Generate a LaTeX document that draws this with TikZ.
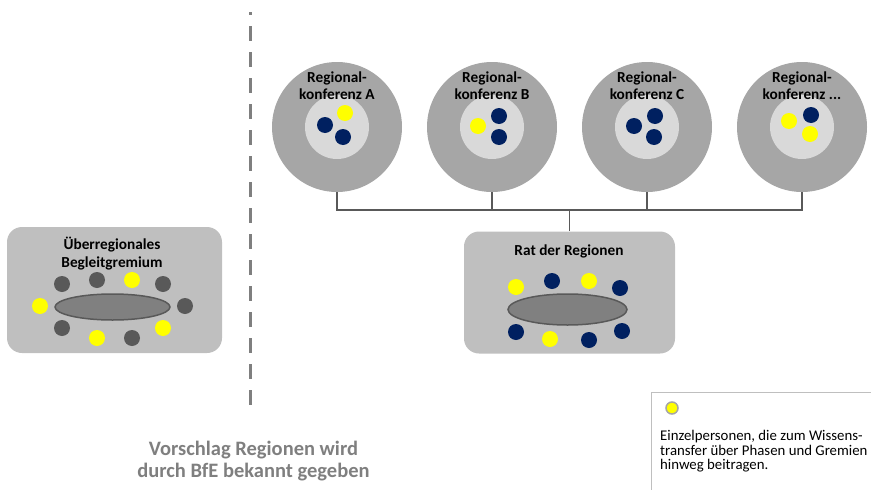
\documentclass[tikz,border=0pt]{standalone}
\usepackage{fontspec}
\setmainfont{Carlito}
\usetikzlibrary{shapes.geometric}
\definecolor{navy}{HTML}{002060}
\definecolor{yel}{HTML}{FFFF00}
\definecolor{dgray}{HTML}{595959}
\definecolor{outerc}{HTML}{A6A6A6}
\definecolor{innerc}{HTML}{D9D9D9}
\definecolor{boxc}{HTML}{BFBFBF}
\definecolor{tablec}{HTML}{808080}
\definecolor{txtgray}{HTML}{7F7F7F}
\begin{document}
\begin{tikzpicture}[x=1pt,y=-1pt,
  dot/.style={circle,minimum size=16pt,inner sep=0pt},
  ydot/.style={dot,fill=yel},
  ndot/.style={dot,fill=navy},
  gdot/.style={dot,fill=dgray},
  outer/.style={circle,minimum size=130pt,inner sep=0pt,fill=outerc},
  inner/.style={circle,minimum size=64pt,inner sep=0pt,fill=innerc},
  ttl/.style={font=\fontsize{15.3}{17.6}\selectfont\bfseries,align=center,inner sep=0pt},
  gbox/.style={rectangle,rounded corners=15pt,fill=boxc,inner sep=0pt},
  table/.style={ellipse,fill=tablec,draw=dgray,line width=1.5pt,inner sep=0pt},
  conn/.style={draw=dgray,line width=1.8pt},
]
\useasboundingbox (0,0) rectangle (871,490);

% dashed separator
\draw[txtgray,line width=3pt,dash pattern=on 15pt off 11pt,dash phase=12pt] (250,12) -- (250,412);

% regional conferences
\foreach \n/\x in {ra/337,rb/492,rc/647,rd/802}{
  \node[outer] (\n) at (\x,127) {};
  \node[inner] (\n i) at (\x,127) {};
}
\node[ttl] (ta) at (337,85.5) {Regional-\\konferenz A};
\node[ttl] (tb) at (492,85.5) {Regional-\\konferenz B};
\node[ttl] (tc) at (647,85.5) {Regional-\\konferenz C};
\node[ttl] (td) at (802,85.5) {Regional-\\konferenz ...};

\node[ydot] (a1) at (345,113) {};
\node[ndot] (a2) at (325,125) {};
\node[ndot] (a3) at (343,137) {};
\node[ndot] (b1) at (499,116) {};
\node[ydot] (b2) at (478,126) {};
\node[ndot] (b3) at (499,137) {};
\node[ndot] (c1) at (655,116) {};
\node[ndot] (c2) at (634,126) {};
\node[ndot] (c3) at (654,137) {};
\node[ndot] (d1) at (811,115) {};
\node[ydot] (d2) at (789,121) {};
\node[ydot] (d3) at (810,134) {};

% Rat der Regionen
\node[gbox,minimum width=211pt,minimum height=122pt] (rat) at (569.5,292.5) {};
\node[ttl] (rtt) at (569,251.5) {Rat der Regionen};
\node[table,minimum width=119pt,minimum height=31pt] (rtab) at (567.5,309.5) {};
\node[ydot] (r1) at (516,287) {};
\node[ndot] (r2) at (552,281) {};
\node[ydot] (r3) at (589,281) {};
\node[ndot] (r4) at (620,288) {};
\node[ndot] (r5) at (516,332) {};
\node[ydot] (r6) at (550,339) {};
\node[ndot] (r7) at (589,340) {};
\node[ndot] (r8) at (622,331) {};

% connectors
\coordinate (bus) at (569.5,210);
\draw[conn] (ra.south) |- (rd.south |- bus) -- (rd.south);
\draw[conn] (rb.south) -- (rb.south |- bus);
\draw[conn] (rc.south) -- (rc.south |- bus);
\draw[conn] (bus) -- (rat.north);

% Ueberregionales Begleitgremium
\node[gbox,minimum width=215pt,minimum height=126pt] (ueb) at (114.5,290) {};
\node[ttl] (utt) at (112,253.5) {Überregionales\\Begleitgremium};
\node[table,minimum width=115pt,minimum height=26pt] (utab) at (112.5,307) {};
\node[gdot] (u1) at (62,284) {};
\node[gdot] (u2) at (97,280) {};
\node[ydot] (u3) at (132,280) {};
\node[gdot] (u4) at (163,284) {};
\node[ydot] (u5) at (40,306) {};
\node[gdot] (u6) at (185,306) {};
\node[gdot] (u7) at (62,328) {};
\node[ydot] (u8) at (97,338) {};
\node[gdot] (u9) at (132,338) {};
\node[ydot] (u10) at (163,328) {};

% bottom text
\node[font=\fontsize{20.5}{22}\selectfont\bfseries,text=txtgray,align=center,inner sep=0pt] (note) at (253.5,461) {Vorschlag Regionen wird\\durch BfE bekannt gegeben};

% legend
\node[draw=boxc,line width=1pt,rectangle,minimum width=230pt,minimum height=110pt,anchor=north west,inner sep=0pt] (leg) at (651,392) {};
\node[circle,minimum size=12pt,inner sep=0pt,fill=yel,draw=outerc,line width=1.5pt] (legdot) at (672,408) {};
\node[anchor=north west,align=left,inner sep=0pt,font=\fontsize{14.8}{14.5}\selectfont] (legtxt) at (660,430.5) {Einzelpersonen, die zum Wissens-\\transfer über Phasen und Gremien\\hinweg beitragen.};
\end{tikzpicture}
\end{document}
